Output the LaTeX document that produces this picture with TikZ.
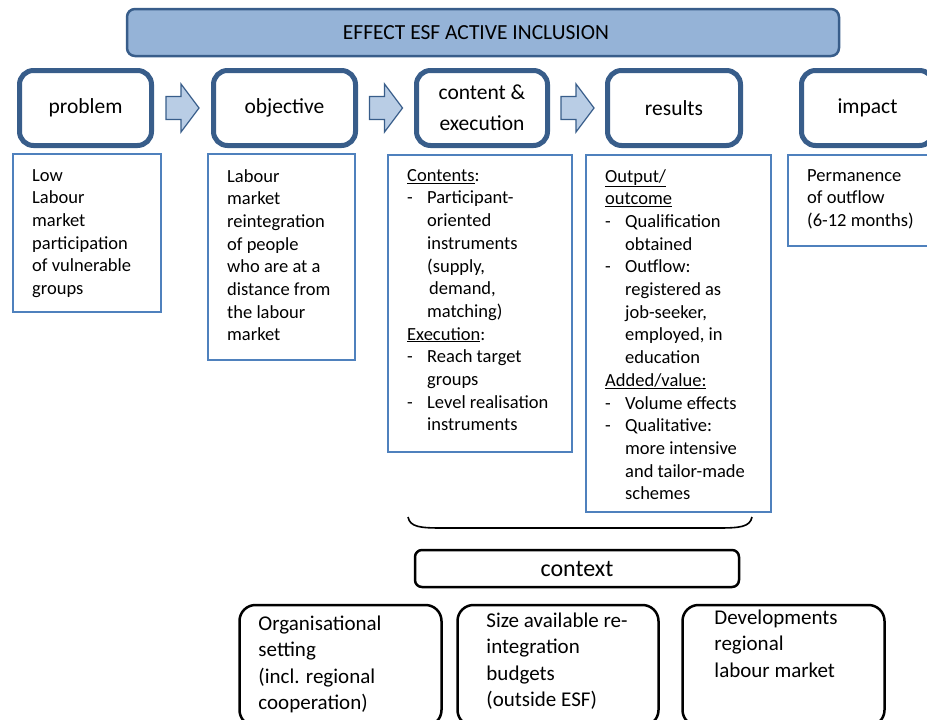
\documentclass[tikz,border=0pt]{standalone}
\usepackage{fontspec}
\setmainfont{Carlito}
\usetikzlibrary{positioning,calc}
\definecolor{esfdarkblue}{RGB}{56,93,138}
\definecolor{esfblue}{RGB}{79,129,189}
\definecolor{esftitleblue}{RGB}{149,179,215}
\definecolor{esflightblue}{RGB}{185,205,229}
\newcommand{\ulword}[1]{\underline{#1}}
\newcommand{\bdash}{\makebox[20pt][l]{-}}
\newcommand{\bind}{\makebox[20pt]{}}

\begin{document}
\begin{tikzpicture}[x=1pt, y=-1pt,
    stage/.style={draw=esfdarkblue, line width=5pt, rounded corners=14pt, fill=white, align=center, inner sep=0pt, minimum height=75pt, font=\fontsize{21.5}{31}\selectfont},
    frame/.style={draw=esfblue, line width=2pt, inner sep=0pt},
    boxtext/.style={anchor=north west, align=left, inner sep=0pt, font=\fontsize{18.5}{22.7}\selectfont, execute at begin node=\strut},
    ctxbox/.style={draw=black, line width=2.5pt, rounded corners=16pt, inner sep=0pt, minimum height=121pt},
    ctxtext/.style={anchor=north west, align=left, inner sep=0pt, font=\fontsize{21}{26.3}\selectfont, execute at begin node=\strut},
    arrowline/.style={draw=esfdarkblue, line width=1.2pt, fill=esflightblue},
    stagearrow/.pic={\path[arrowline] (-16.5,-11.5) -- (-1.5,-11.5) -- (-1.5,-24) -- (16.5,0) -- (-1.5,24) -- (-1.5,11.5) -- (-16.5,11.5) -- cycle;}
]
\useasboundingbox (0,0) rectangle (927,720);
\clip (0,0) rectangle (927,720);

% Title bar
\node[draw=esfdarkblue, line width=2.5pt, fill=esftitleblue, rounded corners=8pt, minimum width=712pt, minimum height=47pt, inner sep=0pt] (title) at (483,32.5) {};
\node[font=\fontsize{21.5}{25}\selectfont, inner sep=0pt] (titletext) at ($(title.center)+(-7,0)$) {EFFECT ESF ACTIVE INCLUSION};

% Stages
\node[stage, minimum width=132pt] (problem) at (85.5,108) {problem};
\node[stage, minimum width=142pt] (objective) at (284.5,108) {objective};
\node[stage, minimum width=131pt] (content) at (482,108) {content \&\\execution};
\node[stage, minimum width=133pt] (results) at (674,108) {results};
\node[stage, minimum width=132pt] (impact) at (867.5,108) {impact};

% Arrows between stages
\path ($(problem.east)!0.5!(objective.west)$) pic {stagearrow};
\path ($(objective.east)!0.5!(content.west)$) pic {stagearrow};
\path ($(content.east)!0.5!(results.west)$) pic {stagearrow};

% Description frames
\node[frame, minimum width=148pt, minimum height=158pt] (probframe) at (87,233) {};
\node[frame, minimum width=147pt, minimum height=206pt] (objframe) at (281.5,257) {};
\node[frame, minimum width=184pt, minimum height=297pt] (contframe) at (480,303.5) {};
\node[frame, minimum width=185pt, minimum height=357pt] (resframe) at (678.5,333.5) {};
\node[frame, minimum width=148pt, minimum height=91pt] (impframe) at (862,200.5) {};

% Descriptions
\node[boxtext] (probtext) at ($(probframe.north west)+(20,16)$) {Low\\Labour\\market\\participation\\of vulnerable\\groups};
\node[boxtext] (objtext) at ($(objframe.north west)+(20,16)$) {Labour\\market\\reintegration\\of people\\who are at a\\distance from\\the labour\\market};
\node[boxtext] (conttext) at ($(contframe.north west)+(20,15)$) {\ulword{Contents}:\\
    \bdash Participant-\\\bind oriented\\\bind instruments\\\bind (supply,\\\bind\hspace{2pt}demand,\\\bind matching)\\
    \ulword{Execution}:\\
    \bdash Reach target\\\bind groups\\
    \bdash Level realisation\\\bind instruments};
\node[boxtext] (restext) at ($(resframe.north west)+(20,15)$) {\ulword{Output/}\\\ulword{outcome}\\
    \bdash Qualification\\\bind obtained\\
    \bdash Outflow:\\\bind registered as\\\bind job-seeker,\\\bind employed, in\\\bind education\\
    \ulword{Added/value:}\\
    \bdash Volume effects\\
    \bdash Qualitative:\\\bind more intensive\\\bind and tailor-made\\\bind schemes};
\node[boxtext] (imptext) at ($(impframe.north west)+(20,15)$) {Permanence\\of outflow\\(6-12 months)};

% Brace under content and results
\draw[line width=1.6pt] (408,517) .. controls (410,527) and (420,528) .. (442,528) -- (718,528) .. controls (740,528) and (750,527) .. (752,517);

% Context
\node[draw=black, line width=2.5pt, rounded corners=7pt, minimum width=324pt, minimum height=37pt, inner sep=0pt, font=\fontsize{24}{28}\selectfont] (context) at (577,568.5) {context};

\node[ctxbox, minimum width=202pt] (orgbox) at (340.5,665.5) {};
\node[ctxbox, minimum width=201pt] (budgetbox) at (558,665.5) {};
\node[ctxbox, minimum width=202pt] (marketbox) at (783.5,665.5) {};

\node[ctxtext] (orgtext) at ($(orgbox.north west)+(20,12)$) {Organisational\\setting\\(incl. regional\\cooperation)};
\node[ctxtext] (budgettext) at ($(budgetbox.north west)+(30,9)$) {Size available re-\\integration\\budgets\\(outside ESF)};
\node[ctxtext] (markettext) at ($(marketbox.north west)+(33,6)$) {Developments\\regional\\labour market};

\end{tikzpicture}
\end{document}
